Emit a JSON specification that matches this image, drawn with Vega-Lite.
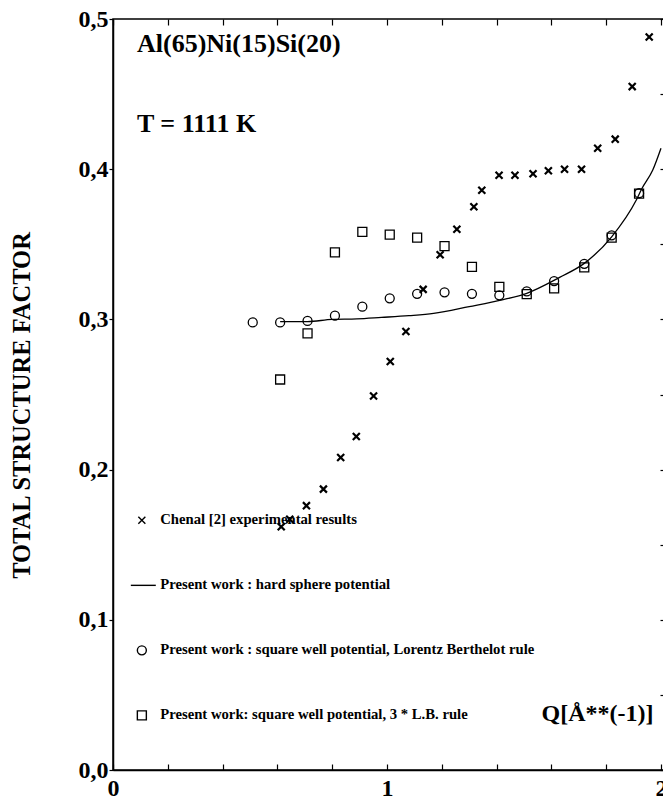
{
  "$schema": "https://vega.github.io/schema/vega-lite/v6.json",
  "width": 551,
  "height": 751,
  "autosize": {"type": "none"},
  "padding": {"left": 113, "top": 19, "right": 0, "bottom": 30},
  "background": "white",
  "config": {
    "font": "Liberation Serif",
    "view": {"stroke": "black", "strokeWidth": 1.5},
    "axis": {
      "grid": false,
      "domainColor": "black",
      "domainWidth": 1.5,
      "tickColor": "black",
      "tickWidth": 1.2,
      "labelColor": "black",
      "titleColor": "black",
      "labelFont": "Liberation Serif",
      "labelFontWeight": "bold",
      "labelFontSize": 24,
      "titleFont": "Liberation Serif",
      "titleFontWeight": "bold"
    },
    "legend": {
      "labelFont": "Liberation Serif",
      "labelFontWeight": "bold",
      "labelFontSize": 14.7,
      "labelColor": "black",
      "labelLimit": 0,
      "symbolStrokeColor": "black",
      "symbolFillColor": "transparent",
      "symbolStrokeWidth": 1.4,
      "symbolSize": 81
    }
  },
  "title": {
    "text": "Al(65)Ni(15)Si(20)",
    "subtitle": "T = 1111 K",
    "anchor": "start",
    "frame": "group",
    "dx": 24,
    "offset": -130,
    "font": "Liberation Serif",
    "subtitleFont": "Liberation Serif",
    "fontSize": 26,
    "subtitleFontSize": 26,
    "fontWeight": "bold",
    "subtitleFontWeight": "bold",
    "color": "black",
    "subtitleColor": "black",
    "subtitlePadding": 54
  },
  "datasets": {
    "points": [
      {"series": "Chenal [2] experimental results", "q": 0.614, "S": 0.162},
      {"series": "Chenal [2] experimental results", "q": 0.645, "S": 0.167},
      {"series": "Chenal [2] experimental results", "q": 0.706, "S": 0.176},
      {"series": "Chenal [2] experimental results", "q": 0.768, "S": 0.187},
      {"series": "Chenal [2] experimental results", "q": 0.831, "S": 0.208},
      {"series": "Chenal [2] experimental results", "q": 0.888, "S": 0.222},
      {"series": "Chenal [2] experimental results", "q": 0.951, "S": 0.249},
      {"series": "Chenal [2] experimental results", "q": 1.012, "S": 0.272},
      {"series": "Chenal [2] experimental results", "q": 1.069, "S": 0.292},
      {"series": "Chenal [2] experimental results", "q": 1.132, "S": 0.320},
      {"series": "Chenal [2] experimental results", "q": 1.194, "S": 0.343},
      {"series": "Chenal [2] experimental results", "q": 1.255, "S": 0.360},
      {"series": "Chenal [2] experimental results", "q": 1.317, "S": 0.375},
      {"series": "Chenal [2] experimental results", "q": 1.346, "S": 0.386},
      {"series": "Chenal [2] experimental results", "q": 1.409, "S": 0.396},
      {"series": "Chenal [2] experimental results", "q": 1.467, "S": 0.396},
      {"series": "Chenal [2] experimental results", "q": 1.533, "S": 0.397},
      {"series": "Chenal [2] experimental results", "q": 1.589, "S": 0.399},
      {"series": "Chenal [2] experimental results", "q": 1.648, "S": 0.400},
      {"series": "Chenal [2] experimental results", "q": 1.710, "S": 0.400},
      {"series": "Chenal [2] experimental results", "q": 1.769, "S": 0.414},
      {"series": "Chenal [2] experimental results", "q": 1.833, "S": 0.420},
      {"series": "Chenal [2] experimental results", "q": 1.895, "S": 0.455},
      {"series": "Chenal [2] experimental results", "q": 1.957, "S": 0.488},
      {"series": "Present work : square well potential, Lorentz Berthelot rule", "q": 0.51, "S": 0.298},
      {"series": "Present work : square well potential, Lorentz Berthelot rule", "q": 0.61, "S": 0.298},
      {"series": "Present work : square well potential, Lorentz Berthelot rule", "q": 0.71, "S": 0.299},
      {"series": "Present work : square well potential, Lorentz Berthelot rule", "q": 0.81, "S": 0.3025},
      {"series": "Present work : square well potential, Lorentz Berthelot rule", "q": 0.91, "S": 0.3085},
      {"series": "Present work : square well potential, Lorentz Berthelot rule", "q": 1.01, "S": 0.314},
      {"series": "Present work : square well potential, Lorentz Berthelot rule", "q": 1.11, "S": 0.317},
      {"series": "Present work : square well potential, Lorentz Berthelot rule", "q": 1.21, "S": 0.318},
      {"series": "Present work : square well potential, Lorentz Berthelot rule", "q": 1.31, "S": 0.317},
      {"series": "Present work : square well potential, Lorentz Berthelot rule", "q": 1.41, "S": 0.316},
      {"series": "Present work : square well potential, Lorentz Berthelot rule", "q": 1.51, "S": 0.3186},
      {"series": "Present work : square well potential, Lorentz Berthelot rule", "q": 1.61, "S": 0.3255},
      {"series": "Present work : square well potential, Lorentz Berthelot rule", "q": 1.72, "S": 0.337},
      {"series": "Present work : square well potential, Lorentz Berthelot rule", "q": 1.82, "S": 0.356},
      {"series": "Present work : square well potential, Lorentz Berthelot rule", "q": 1.92, "S": 0.384},
      {"series": "Present work: square well potential, 3 * L.B. rule", "q": 0.61, "S": 0.260},
      {"series": "Present work: square well potential, 3 * L.B. rule", "q": 0.71, "S": 0.2907},
      {"series": "Present work: square well potential, 3 * L.B. rule", "q": 0.81, "S": 0.3446},
      {"series": "Present work: square well potential, 3 * L.B. rule", "q": 0.91, "S": 0.3583},
      {"series": "Present work: square well potential, 3 * L.B. rule", "q": 1.01, "S": 0.3565},
      {"series": "Present work: square well potential, 3 * L.B. rule", "q": 1.11, "S": 0.3545},
      {"series": "Present work: square well potential, 3 * L.B. rule", "q": 1.21, "S": 0.3488},
      {"series": "Present work: square well potential, 3 * L.B. rule", "q": 1.31, "S": 0.335},
      {"series": "Present work: square well potential, 3 * L.B. rule", "q": 1.41, "S": 0.3217},
      {"series": "Present work: square well potential, 3 * L.B. rule", "q": 1.51, "S": 0.3168},
      {"series": "Present work: square well potential, 3 * L.B. rule", "q": 1.61, "S": 0.3206},
      {"series": "Present work: square well potential, 3 * L.B. rule", "q": 1.72, "S": 0.3346},
      {"series": "Present work: square well potential, 3 * L.B. rule", "q": 1.82, "S": 0.3545},
      {"series": "Present work: square well potential, 3 * L.B. rule", "q": 1.92, "S": 0.3838}
    ],
    "line": [
      {"q": 0.61, "S": 0.2985},
      {"q": 0.71, "S": 0.2985},
      {"q": 0.80, "S": 0.3000},
      {"q": 0.89, "S": 0.3003},
      {"q": 0.98, "S": 0.3013},
      {"q": 1.08, "S": 0.3025},
      {"q": 1.17, "S": 0.3040},
      {"q": 1.30, "S": 0.3085},
      {"q": 1.42, "S": 0.3130},
      {"q": 1.51, "S": 0.3174},
      {"q": 1.63, "S": 0.3280},
      {"q": 1.72, "S": 0.3373},
      {"q": 1.82, "S": 0.3550},
      {"q": 1.91, "S": 0.3795},
      {"q": 1.93, "S": 0.3870},
      {"q": 1.97, "S": 0.3995},
      {"q": 2.00, "S": 0.4140}
    ]
  },
  "layer": [
    {
      "data": {"name": "points"},
      "mark": {"type": "point", "filled": false, "stroke": "black", "opacity": 1, "size": 81},
      "encoding": {
        "x": {
          "field": "q",
          "type": "quantitative",
          "scale": {"domain": [0, 2.011], "nice": false, "zero": false},
          "axis": {
            "orient": "bottom",
            "values": [0, 0.2, 0.4, 0.6, 0.8, 1, 1.2, 1.4, 1.6, 1.8, 2],
            "labelExpr": "abs(datum.value - round(datum.value)) < 0.001 ? format(datum.value, 'd') : ''",
            "labelOverlap": false,
            "labelFlush": false,
            "tickSize": -6,
            "labelPadding": 12,
            "title": "Q[Å**(-1)]",
            "titleFontSize": 24,
            "titleX": 484,
            "titleY": -57,
            "titleAlign": "center",
            "titleBaseline": "middle"
          }
        },
        "y": {
          "field": "S",
          "type": "quantitative",
          "scale": {"domain": [0, 0.5], "nice": false},
          "axis": {
            "values": [0, 0.1, 0.2, 0.3, 0.4, 0.5],
            "labelExpr": "replace(format(datum.value, '.1f'), '.', ',')",
            "tickSize": 4,
            "labelPadding": 1,
            "title": "TOTAL STRUCTURE FACTOR",
            "titleFontSize": 24.5,
            "titleX": -91,
            "titleY": 386,
            "titleAlign": "center",
            "titleBaseline": "middle"
          }
        },
        "shape": {
          "field": "series",
          "type": "nominal",
          "scale": {
            "domain": ["Chenal [2] experimental results", "Present work : hard sphere potential", "Present work : square well potential, Lorentz Berthelot rule", "Present work: square well potential, 3 * L.B. rule"],
            "range": ["M-0.78,-0.78L0.78,0.78M-0.78,0.78L0.78,-0.78", "M-2.45,0L3.1,0", "circle", "square"]
          },
          "legend": {
            "title": null,
            "orient": "none",
            "legendX": 21.5,
            "legendY": 494,
            "padding": 0,
            "rowPadding": 49,
            "labelOffset": 11
          }
        },
        "strokeWidth": {
          "condition": {"test": "datum.series === 'Chenal [2] experimental results'", "value": 2.2},
          "value": 1.3
        }
      }
    },
    {
      "data": {"name": "line"},
      "mark": {"type": "line", "color": "black", "strokeWidth": 1.3, "interpolate": "monotone"},
      "encoding": {
        "x": {
          "field": "q",
          "type": "quantitative",
          "scale": {"domain": [0, 2.011], "nice": false, "zero": false},
          "axis": {
            "orient": "top",
            "values": [0, 0.2, 0.4, 0.6, 0.8, 1, 1.2, 1.4, 1.6, 1.8, 2],
            "labels": false,
            "domain": false,
            "tickSize": -6,
            "title": null
          }
        },
        "y": {
          "field": "S",
          "type": "quantitative",
          "scale": {"domain": [0, 0.5], "nice": false},
          "axis": {
            "orient": "right",
            "values": [0, 0.05, 0.1, 0.15, 0.2, 0.25, 0.3, 0.35, 0.4, 0.45, 0.5],
            "labels": false,
            "domain": false,
            "tickSize": -4,
            "title": null
          }
        }
      }
    }
  ],
  "resolve": {"axis": {"x": "independent", "y": "independent"}}
}
